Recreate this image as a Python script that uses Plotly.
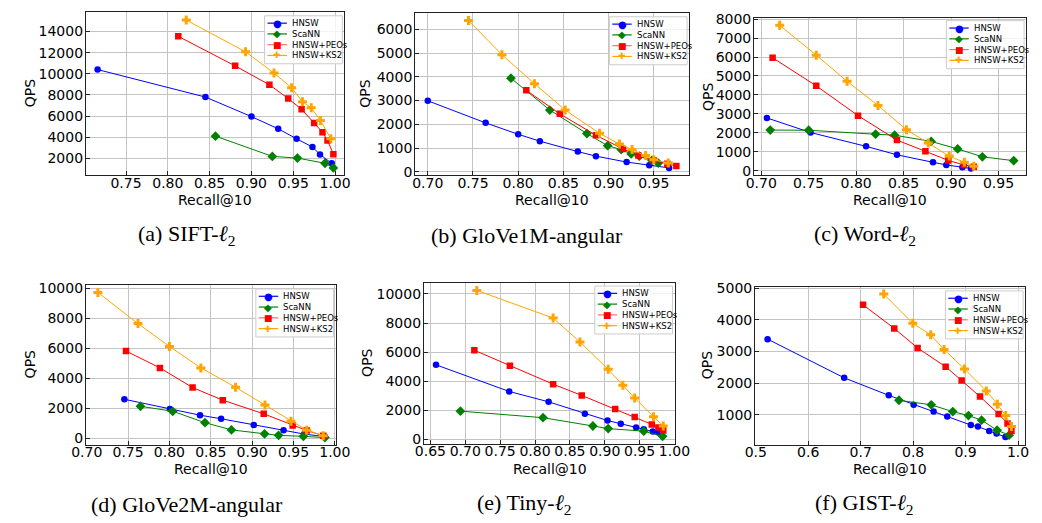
import plotly.graph_objects as go

W, H = 1042, 523

# ---------------- data ----------------
series_names = ["HNSW", "ScaNN", "HNSW+PEOs", "HNSW+KS2"]

# (a) SIFT-l2
a_hnsw_x = [0.716, 0.845, 0.900, 0.932, 0.954, 0.973, 0.982, 0.996]
a_hnsw_y = [10400, 7800, 5950, 4800, 3850, 3080, 2370, 1530]
a_scann_x = [0.857, 0.925, 0.955, 0.988, 0.998]
a_scann_y = [4100, 2190, 2030, 1540, 1100]
a_peos_x = [0.8125, 0.8805, 0.9215, 0.944, 0.960, 0.975, 0.985, 0.991, 0.998]
a_peos_y = [13540, 10750, 8960, 7660, 6640, 5340, 4470, 3700, 2400]
a_ks2_x = [0.822, 0.893, 0.927, 0.948, 0.961, 0.9715, 0.9825, 0.995]
a_ks2_y = [15080, 12080, 10070, 8680, 7350, 6790, 5590, 3860]

# (b) GloVe1M-angular
b_hnsw_x = [0.700, 0.764, 0.800, 0.824, 0.866, 0.886, 0.920, 0.945, 0.967]
b_hnsw_y = [2990, 2060, 1580, 1290, 850, 660, 410, 275, 165]
b_scann_x = [0.792, 0.835, 0.876, 0.899, 0.914, 0.925, 0.934, 0.948, 0.955]
b_scann_y = [3940, 2600, 1610, 1100, 935, 755, 660, 480, 370]
b_peos_x = [0.809, 0.846, 0.886, 0.916, 0.933, 0.950, 0.965, 0.975]
b_peos_y = [3430, 2440, 1540, 960, 690, 480, 340, 250]
b_ks2_x = [0.745, 0.782, 0.818, 0.852, 0.890, 0.912, 0.926, 0.941, 0.950, 0.966]
b_ks2_y = [6370, 4930, 3710, 2600, 1620, 1170, 935, 690, 510, 370]

# (c) Word-l2
c_hnsw_x = [0.706, 0.752, 0.8105, 0.843, 0.881, 0.895, 0.912, 0.921]
c_hnsw_y = [2790, 2020, 1290, 845, 450, 310, 190, 120]
c_scann_x = [0.7095, 0.750, 0.8205, 0.8405, 0.879, 0.907, 0.933, 0.966]
c_scann_y = [2150, 2140, 1930, 1880, 1550, 1155, 740, 535]
c_peos_x = [0.712, 0.758, 0.802, 0.843, 0.873, 0.897, 0.9135, 0.924]
c_peos_y = [5960, 4480, 2910, 1620, 1030, 550, 310, 210]
c_ks2_x = [0.7195, 0.758, 0.7905, 0.823, 0.853, 0.876, 0.898, 0.914, 0.924]
c_ks2_y = [7670, 6100, 4720, 3450, 2170, 1470, 780, 450, 240]

# (d) GloVe2M-angular
d_hnsw_x = [0.7455, 0.8005, 0.837, 0.8625, 0.902, 0.938, 0.963, 0.988]
d_hnsw_y = [2600, 1950, 1540, 1300, 890, 540, 280, 110]
d_scann_x = [0.765, 0.804, 0.843, 0.875, 0.915, 0.932, 0.962, 0.988]
d_scann_y = [2130, 1800, 1040, 560, 300, 195, 130, 45]
d_peos_x = [0.7475, 0.7885, 0.828, 0.8645, 0.914, 0.949, 0.966, 0.986]
d_peos_y = [5810, 4690, 3380, 2540, 1630, 850, 520, 175]
d_ks2_x = [0.7135, 0.762, 0.800, 0.838, 0.880, 0.9155, 0.947, 0.966, 0.986]
d_ks2_y = [9720, 7640, 6120, 4690, 3400, 2210, 1130, 540, 175]

# (e) Tiny-l2
e_hnsw_x = [0.658, 0.763, 0.8195, 0.8715, 0.904, 0.923, 0.945, 0.956, 0.969, 0.977]
e_hnsw_y = [5130, 3300, 2590, 1770, 1305, 1085, 820, 710, 555, 490]
e_scann_x = [0.693, 0.8115, 0.883, 0.905, 0.956, 0.983]
e_scann_y = [1950, 1500, 930, 750, 575, 220]
e_peos_x = [0.713, 0.764, 0.826, 0.867, 0.915, 0.943, 0.9675, 0.977, 0.984]
e_peos_y = [6130, 5070, 3800, 3030, 2100, 1550, 1040, 820, 620]
e_ks2_x = [0.7165, 0.826, 0.8645, 0.905, 0.926, 0.943, 0.970, 0.984]
e_ks2_y = [10240, 8340, 6700, 4820, 3720, 2850, 1570, 930]

# (f) GIST-l2
f_hnsw_x = [0.5225, 0.6685, 0.7535, 0.801, 0.839, 0.865, 0.910, 0.9235, 0.945, 0.959, 0.976]
f_hnsw_y = [3390, 2165, 1610, 1310, 1095, 940, 670, 620, 485, 400, 290]
f_scann_x = [0.773, 0.8345, 0.8755, 0.9055, 0.9305, 0.960, 0.983]
f_scann_y = [1455, 1310, 1095, 970, 825, 505, 350]
f_peos_x = [0.7045, 0.764, 0.8085, 0.862, 0.8925, 0.9275, 0.963, 0.980, 0.9875]
f_peos_y = [4475, 3730, 3110, 2515, 2080, 1570, 1020, 720, 485]
f_ks2_x = [0.744, 0.7995, 0.8335, 0.859, 0.898, 0.9395, 0.9605, 0.9765, 0.9875]
f_ks2_y = [4815, 3890, 3525, 3060, 2445, 1750, 1330, 970, 620]

captions = ["(a) SIFT-<i>ℓ</i><sub>2</sub>", "(b) GloVe1M-angular", "(c) Word-<i>ℓ</i><sub>2</sub>",
            "(d) GloVe2M-angular", "(e) Tiny-<i>ℓ</i><sub>2</sub>", "(f) GIST-<i>ℓ</i><sub>2</sub>"]
x_title = "Recall@10"
y_title = "QPS"

x_ticks = [
    [0.75, 0.80, 0.85, 0.90, 0.95, 1.00],
    [0.70, 0.75, 0.80, 0.85, 0.90, 0.95],
    [0.70, 0.75, 0.80, 0.85, 0.90, 0.95],
    [0.70, 0.75, 0.80, 0.85, 0.90, 0.95, 1.00],
    [0.65, 0.70, 0.75, 0.80, 0.85, 0.90, 0.95, 1.00],
    [0.5, 0.6, 0.7, 0.8, 0.9, 1.0],
]
y_ticks = [
    [2000, 4000, 6000, 8000, 10000, 12000, 14000],
    [0, 1000, 2000, 3000, 4000, 5000, 6000],
    [0, 1000, 2000, 3000, 4000, 5000, 6000, 7000, 8000],
    [0, 2000, 4000, 6000, 8000, 10000],
    [0, 2000, 4000, 6000, 8000, 10000],
    [1000, 2000, 3000, 4000, 5000],
]

panels = [
    [(a_hnsw_x, a_hnsw_y), (a_scann_x, a_scann_y), (a_peos_x, a_peos_y), (a_ks2_x, a_ks2_y)],
    [(b_hnsw_x, b_hnsw_y), (b_scann_x, b_scann_y), (b_peos_x, b_peos_y), (b_ks2_x, b_ks2_y)],
    [(c_hnsw_x, c_hnsw_y), (c_scann_x, c_scann_y), (c_peos_x, c_peos_y), (c_ks2_x, c_ks2_y)],
    [(d_hnsw_x, d_hnsw_y), (d_scann_x, d_scann_y), (d_peos_x, d_peos_y), (d_ks2_x, d_ks2_y)],
    [(e_hnsw_x, e_hnsw_y), (e_scann_x, e_scann_y), (e_peos_x, e_peos_y), (e_ks2_x, e_ks2_y)],
    [(f_hnsw_x, f_hnsw_y), (f_scann_x, f_scann_y), (f_peos_x, f_peos_y), (f_ks2_x, f_ks2_y)],
]

# ---------------- layout / style ----------------
colors = ["blue", "green", "red", "orange"]
legend_line_colors = ["blue", "green", "#ff6f6f", "orange"]
symbols = ["circle", "diamond", "square", "cross"]
msizes = [6.5, 7.5, 6.5, 7.5]
glyphs = ["●", "◆", "■", "✚"]
glyph_sizes = [10, 10, 9, 9]

# plot boxes in pixels: (left, right, top, bottom)
boxes = [(73, 339, 5, 172), (412, 694, 6, 172), (761, 1041, 11, 172),
         (73, 331, 284, 447), (421, 680, 282, 446), (762, 1040, 286, 447)]
x_ranges = [[0.702, 1.011], [0.686, 0.989], [0.6925, 0.979],
            [0.699, 1.002], [0.6406, 1.0014], [0.4986, 1.0134]]
y_ranges = [[393, 15855], [-150, 6690], [-240, 8070],
            [-420, 10210], [-280, 10743], [51, 5041]]
x_fmt = [".2f", ".2f", ".2f", ".2f", ".2f", ".1f"]
# legend boxes (right px, top px)
legend_pos = [(337, 9), (692, 10), (1039, 14), (328, 288), (677, 285), (1038, 290)]
LEG_W, LEG_H, LEG_ROW = 80, 49, 11
caption_pos = [(177, 233), (527, 233), (875, 233), (177, 508), (525, 508), (875, 508)]
qps_x = [15, 360, 713, 15, 363, 712]
recall_y = [197, 197, 197, 472, 472, 472]


def px(x):
    return x / W


def py(y):
    return 1 - y / H


fig = go.Figure()
annotations = []
shapes = []
layout = dict(
    width=W, height=H, margin=dict(l=0, r=0, t=0, b=0),
    paper_bgcolor="white", plot_bgcolor="white",
    font=dict(family="DejaVu Sans", size=14, color="black"),
    showlegend=False,
)

for i, panel in enumerate(panels):
    k = "" if i == 0 else str(i + 1)
    for j, (xs, ys) in enumerate(panel):
        fig.add_trace(go.Scatter(
            x=xs, y=ys, mode="lines+markers", name=series_names[j],
            line=dict(color=colors[j], width=1),
            marker=dict(symbol=symbols[j], size=msizes[j], color=colors[j]),
            xaxis="x" + k, yaxis="y" + k,
        ))
    l, r, t, b = boxes[i]
    axcommon = dict(showline=True, linecolor="#222222", linewidth=1, mirror=True,
                    ticks="inside", ticklen=4, tickwidth=1, tickcolor="#222222",
                    showgrid=True, gridcolor="#c4c4c4", gridwidth=1, zeroline=False,
                    tickfont=dict(family="DejaVu Sans", size=14, color="black"))
    layout["xaxis" + k] = dict(
        axcommon, domain=[px(l), px(r)], anchor="y" + k, range=x_ranges[i],
        tickmode="array", tickvals=x_ticks[i], tickformat=x_fmt[i],
        ticklabelstandoff=-5,
    )
    layout["yaxis" + k] = dict(
        axcommon, domain=[py(b), py(t)], anchor="x" + k, range=y_ranges[i],
        tickmode="array", tickvals=y_ticks[i], tickformat="d",
        ticklabelstandoff=-1,
    )
    # axis titles
    annotations.append(dict(text=x_title, x=px((l + r) / 2), y=py(recall_y[i]),
                            xref="paper", yref="paper", xanchor="center", yanchor="middle",
                            showarrow=False, font=dict(family="DejaVu Sans", size=14, color="black")))
    annotations.append(dict(text=y_title, x=px(qps_x[i]), y=py((t + b) / 2), textangle=-90,
                            xref="paper", yref="paper", xanchor="center", yanchor="middle",
                            showarrow=False, font=dict(family="DejaVu Sans", size=14, color="black")))
    # legend
    R, T = legend_pos[i]
    shapes.append(dict(type="rect", xref="paper", yref="paper",
                       x0=px(R - LEG_W), x1=px(R), y0=py(T + LEG_H), y1=py(T),
                       line=dict(color="#cccccc", width=1), fillcolor="rgba(255,255,255,0.8)",
                       layer="above"))
    for j in range(4):
        cy = T + 7.5 + LEG_ROW * j
        shapes.append(dict(type="line", xref="paper", yref="paper",
                           x0=px(R - 77), x1=px(R - 57), y0=py(cy), y1=py(cy),
                           line=dict(color=legend_line_colors[j], width=1.2), layer="above"))
        annotations.append(dict(text=glyphs[j], x=px(R - 67), y=py(cy), xref="paper", yref="paper",
                                xanchor="center", yanchor="middle", showarrow=False,
                                font=dict(family="DejaVu Sans", size=glyph_sizes[j], color=colors[j])))
        annotations.append(dict(text=series_names[j], x=px(R - 54), y=py(cy), xref="paper", yref="paper",
                                xanchor="left", yanchor="middle", showarrow=False,
                                font=dict(family="DejaVu Sans", size=8.5, color="black")))
    # caption
    cx, cy = caption_pos[i]
    annotations.append(dict(
        text=captions[i], x=px(cx), y=py(cy), xref="paper", yref="paper",
        xanchor="center", yanchor="middle", showarrow=False,
        font=dict(family="Liberation Serif", size=22, color="black"),
    ))

layout["annotations"] = annotations
layout["shapes"] = shapes
fig.update_layout(**layout)
fig.write_html("out.html")
